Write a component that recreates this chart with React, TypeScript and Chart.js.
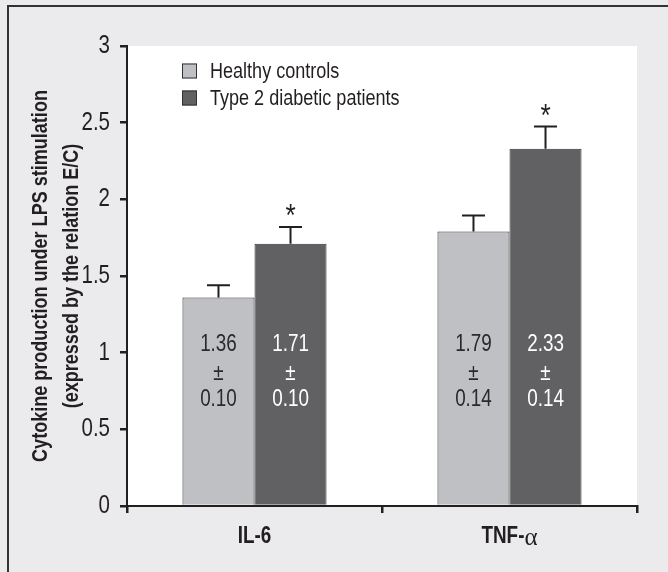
import React, { useEffect, useRef } from "react";
import { Chart, registerables } from "chart.js";
Chart.register(...registerables);

const categories = ["IL-6", "TNF-α"];
const seriesNames = ["Healthy controls", "Type 2 diabetic patients"];
const healthy = [1.36, 1.79];
const diabetic = [1.71, 2.33];
const healthyErrDrawn = [0.08, 0.105];
const diabeticErrDrawn = [0.11, 0.145];
const healthySem = ["0.10", "0.14"];
const diabeticSem = ["0.10", "0.14"];
const healthySig = [false, false];
const diabeticSig = [true, true];
const yTitle = ["Cytokine production under LPS stimulation", "(expressed by the relation E/C)"];
const yMin = 0;
const yMax = 3;
const yStep = 0.5;

const FONT = '"Liberation Sans", Arial, sans-serif';
const SERIF = '"Liberation Serif", "DejaVu Serif", serif';
const SX = 0.82;
const LIGHT = "#bfc0c4";
const DARK = "#616163";
const INK = "#231f20";
const BG = "#ebebed";

function narrow(ctx: any, text: string, x: number, y: number, font: string, align: string, baseline: string, color: string) {
  ctx.save();
  ctx.font = font;
  ctx.fillStyle = color;
  ctx.textAlign = align;
  ctx.textBaseline = baseline;
  ctx.translate(x, y);
  ctx.scale(SX, 1);
  ctx.fillText(text, 0, 0);
  ctx.restore();
}

function narrowWidth(ctx: any, text: string, font: string) {
  ctx.save();
  ctx.font = font;
  const w = ctx.measureText(text).width * SX;
  ctx.restore();
  return w;
}

const decorPlugin = {
  id: "decor",
  beforeDraw(chart: any) {
    const { ctx, chartArea, width, height } = chart;
    ctx.save();
    ctx.fillStyle = BG;
    ctx.fillRect(0, 0, width, height);
    ctx.fillStyle = "#ffffff";
    ctx.fillRect(chartArea.left, chartArea.top, chartArea.right - chartArea.left, chartArea.bottom - chartArea.top);
    ctx.strokeStyle = "#333";
    ctx.lineWidth = 2;
    ctx.beginPath();
    ctx.moveTo(8, height);
    ctx.lineTo(8, 6);
    ctx.lineTo(width, 6);
    ctx.stroke();
    const midY = (chartArea.top + chartArea.bottom) / 2;
    const xs = [41, 72];
    yTitle.forEach((t, i) => {
      ctx.save();
      ctx.translate(xs[i], midY);
      ctx.rotate(-Math.PI / 2);
      narrow(ctx, t, 0, 0, `bold 22px ${FONT}`, "center", "middle", INK);
      ctx.restore();
    });
    ctx.restore();
  },
  afterDraw(chart: any) {
    const { ctx } = chart;
    const yScale = chart.scales.y;
    const xScale = chart.scales.x;
    yScale.ticks.forEach((t: any, i: number) => {
      const y = yScale.getPixelForTick(i);
      narrow(ctx, String(Number(t.value)), yScale.right - 17, y, `25px ${FONT}`, "right", "middle", INK);
    });
    xScale.ticks.forEach((t: any, i: number) => {
      const x = xScale.getPixelForTick(i);
      const label = String(chart.data.labels[i]);
      const y = 537;
      const boldFont = `bold 23px ${FONT}`;
      if (label.endsWith("α")) {
        const main = label.slice(0, -1);
        const alphaFont = `25px ${SERIF}`;
        const w1 = narrowWidth(ctx, main, boldFont);
        ctx.save();
        ctx.font = alphaFont;
        const w2 = ctx.measureText("α").width;
        ctx.restore();
        const start = x - (w1 + w2) / 2;
        narrow(ctx, main, start, y, boldFont, "left", "middle", INK);
        ctx.save();
        ctx.font = alphaFont;
        ctx.fillStyle = INK;
        ctx.textAlign = "left";
        ctx.textBaseline = "middle";
        ctx.fillText("α", start + w1, y + 1);
        ctx.restore();
      } else {
        narrow(ctx, label, x, y, boldFont, "center", "middle", INK);
      }
    });
  },
  afterDatasetsDraw(chart: any) {
    const { ctx, chartArea } = chart;
    const yScale = chart.scales.y;
    const errs = [healthyErrDrawn, diabeticErrDrawn];
    const vals = [healthy, diabetic];
    const sems = [healthySem, diabeticSem];
    const sigs = [healthySig, diabeticSig];
    ctx.save();
    for (let d = 0; d < 2; d++) {
      const meta = chart.getDatasetMeta(d);
      meta.data.forEach((bar: any, j: number) => {
        const x = bar.x;
        const yTop = bar.y;
        const yErr = yScale.getPixelForValue(vals[d][j] + errs[d][j]);
        ctx.strokeStyle = INK;
        ctx.lineWidth = 2;
        ctx.beginPath();
        ctx.moveTo(x, yTop);
        ctx.lineTo(x, yErr);
        ctx.moveTo(x - 11.5, yErr);
        ctx.lineTo(x + 11.5, yErr);
        ctx.stroke();
        if (sigs[d][j]) {
          narrow(ctx, "*", x, yErr - 1, `32px ${FONT}`, "center", "alphabetic", INK);
        }
        const base = yScale.getPixelForValue(1);
        const col = d === 0 ? "#2a2a2a" : "#ffffff";
        narrow(ctx, vals[d][j].toFixed(2), x, base - 2, `23px ${FONT}`, "center", "alphabetic", col);
        narrow(ctx, "±", x, base + 27, `23px ${FONT}`, "center", "alphabetic", col);
        narrow(ctx, sems[d][j], x, base + 53, `23px ${FONT}`, "center", "alphabetic", col);
      });
    }
    const colors = [LIGHT, DARK];
    seriesNames.forEach((name, i) => {
      const bx = chartArea.left + 55;
      const by = chartArea.top + 17.5 + i * 27;
      ctx.fillStyle = colors[i];
      ctx.fillRect(bx, by, 15, 15);
      ctx.strokeStyle = "#333";
      ctx.lineWidth = 1;
      ctx.strokeRect(bx + 0.5, by + 0.5, 14, 14);
      narrow(ctx, name, bx + 28, by + 8, `22px ${FONT}`, "left", "middle", INK);
    });
    ctx.restore();
  },
};

export default function App() {
  const ref = useRef<HTMLCanvasElement | null>(null);
  useEffect(() => {
    if (!ref.current) return;
    const chart = new Chart(ref.current, {
      type: "bar",
      data: {
        labels: categories,
        datasets: [
          { label: seriesNames[0], data: healthy, backgroundColor: LIGHT, borderColor: "#333", borderWidth: 1, categoryPercentage: 0.565, barPercentage: 1 },
          { label: seriesNames[1], data: diabetic, backgroundColor: DARK, borderColor: "#333", borderWidth: 1, categoryPercentage: 0.565, barPercentage: 1 },
        ],
      },
      options: {
        responsive: false,
        animation: false,
        layout: { padding: { top: 46, right: 31, left: 0, bottom: 0 } },
        plugins: { legend: { display: false }, tooltip: { enabled: false } },
        scales: {
          x: {
            afterFit: (s: any) => { s.height = 66; },
            grid: { offset: true, drawOnChartArea: false, drawTicks: true, tickLength: 7, color: INK, lineWidth: 2.5 },
            border: { display: true, color: INK, width: 2 },
            ticks: { color: "rgba(0,0,0,0)", font: { family: FONT, size: 22, weight: "bold" }, padding: 10 },
          },
          y: {
            min: yMin,
            max: yMax,
            afterFit: (s: any) => { s.width = 127; },
            grid: { drawOnChartArea: false, drawTicks: true, tickLength: 7, color: INK, lineWidth: 2.5 },
            border: { display: true, color: INK, width: 2 },
            ticks: { stepSize: yStep, color: "rgba(0,0,0,0)", font: { family: FONT, size: 22 }, padding: 9 },
          },
        },
      },
      plugins: [decorPlugin],
    });
    return () => chart.destroy();
  }, []);
  return (
    <div style={{ position: "absolute", left: 0, top: 0, width: 668, height: 572 }}>
      <canvas ref={ref} width={668} height={572} />
    </div>
  );
}
